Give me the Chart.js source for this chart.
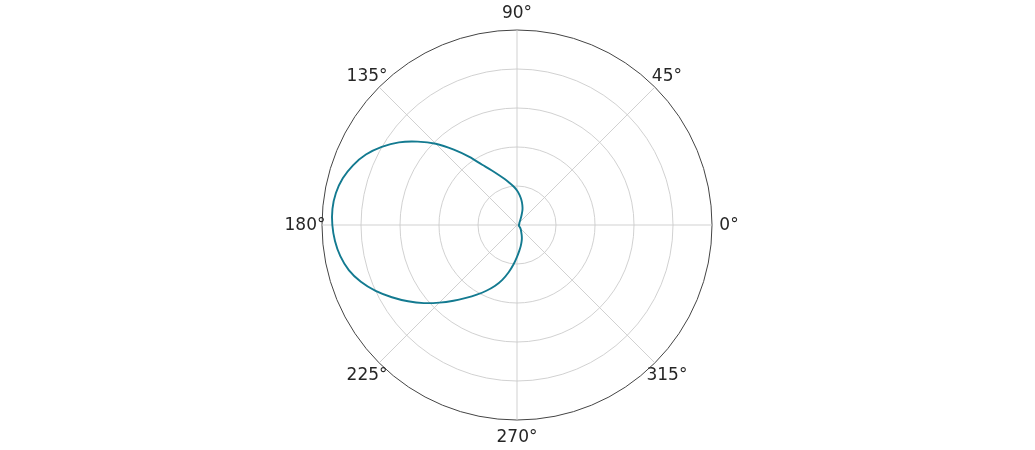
<!DOCTYPE html>
<html>
<head>
<meta charset="utf-8">
<script src="https://cdn.jsdelivr.net/npm/chart.js@4.4.0/dist/chart.umd.min.js"></script>
<style>
  html, body { margin: 0; padding: 0; background: #ffffff; }
  #wrap { width: 1035px; height: 450px; }
</style>
</head>
<body>
<div id="wrap"><canvas id="polarChart"></canvas></div>
<script>
// Polar data: theta in degrees (counter-clockwise from east), r
const thetaDeg = [
  0, 5, 10, 15, 20, 25, 30, 35, 40, 45, 50, 55,
  60, 65, 70, 75, 80, 85, 90, 95, 100, 105, 110, 115,
  120, 125, 130, 135, 140, 145, 150, 155, 160, 165, 170, 175,
  180, 185, 190, 195, 200, 205, 210, 215, 220, 225, 230, 235,
  240, 245, 250, 255, 260, 265, 270, 275, 280, 285, 290, 295,
  300, 305, 310, 315, 320, 325, 330, 335, 340, 345, 350, 355
];
const radius = [
  0.010, 0.010, 0.010, 0.011, 0.012, 0.013, 0.014, 0.015, 0.016, 0.018, 0.022, 0.028,
  0.038, 0.055, 0.082, 0.106, 0.130, 0.154, 0.177, 0.198, 0.219, 0.244, 0.273, 0.310,
  0.357, 0.426, 0.504, 0.589, 0.665, 0.739, 0.801, 0.855, 0.895, 0.925, 0.943, 0.950,
  0.947, 0.937, 0.920, 0.893, 0.852, 0.800, 0.741, 0.682, 0.623, 0.563, 0.507, 0.456,
  0.412, 0.372, 0.333, 0.291, 0.246, 0.202, 0.163, 0.133, 0.110, 0.090, 0.073, 0.057,
  0.044, 0.036, 0.030, 0.025, 0.020, 0.016, 0.013, 0.012, 0.011, 0.010, 0.010, 0.010
];

// Angular tick labels (every 45°)
const thetaTicks = [0, 45, 90, 135, 180, 225, 270, 315];
const thetaTickLabels = ['0°', '45°', '90°', '135°', '180°', '225°', '270°', '315°'];

// Radial grid rings
const rMax = 1.0;
const rStep = 0.2;

const LINE_COLOR = '#137a90';
const GRID_COLOR = '#cccccc';
const SPINE_COLOR = '#444444';
const TEXT_COLOR = '#262626';
const STEP = 5;

// Radar goes clockwise from startAngle, so walk theta downwards: 0, 355, 350, ...
const order = thetaDeg.map((_, i) => thetaDeg.indexOf((360 - i * STEP) % 360));
const chartLabels = order.map(j => thetaDeg[j]);
const chartValues = order.map(j => radius[j]);

// draw the theta labels centred at a fixed distance outside the outer ring
const thetaLabelPlugin = {
  id: 'thetaLabels',
  afterDraw(chart) {
    const scale = chart.scales.r;
    const ctx = chart.ctx;
    ctx.save();
    ctx.font = '17px "DejaVu Sans"';
    ctx.fillStyle = TEXT_COLOR;
    ctx.textAlign = 'center';
    ctx.textBaseline = 'middle';
    thetaTicks.forEach((t, k) => {
      const idx = chartLabels.indexOf(t);
      const p = scale.getPointPosition(idx, scale.drawingArea + 17);
      ctx.fillText(thetaTickLabels[k], p.x, p.y + 1);
    });
    ctx.restore();
  }
};

new Chart(document.getElementById('polarChart'), {
  type: 'radar',
  data: {
    labels: chartLabels,
    datasets: [{
      data: chartValues,
      borderColor: LINE_COLOR,
      borderWidth: 1.9,
      fill: false,
      pointRadius: 0,
      pointHoverRadius: 0,
      tension: 0.3
    }]
  },
  options: {
    responsive: true,
    maintainAspectRatio: false,
    animation: false,
    layout: { padding: { top: 30, bottom: 30 } },
    plugins: {
      legend: { display: false },
      tooltip: { enabled: false }
    },
    scales: {
      r: {
        min: 0,
        max: rMax,
        startAngle: 90,
        ticks: { display: false, stepSize: rStep },
        pointLabels: { display: false },
        grid: {
          circular: true,
          color: ctx => (ctx.tick && ctx.tick.value >= rMax - 1e-6) ? SPINE_COLOR : GRID_COLOR,
          lineWidth: ctx => (ctx.tick && ctx.tick.value >= rMax - 1e-6) ? 1 : 0.9
        },
        angleLines: {
          display: true,
          color: GRID_COLOR,
          lineWidth: ctx => (ctx.index % (45 / STEP) === 0) ? 0.9 : 0
        }
      }
    }
  },
  plugins: [thetaLabelPlugin]
});
</script>
</body>
</html>
